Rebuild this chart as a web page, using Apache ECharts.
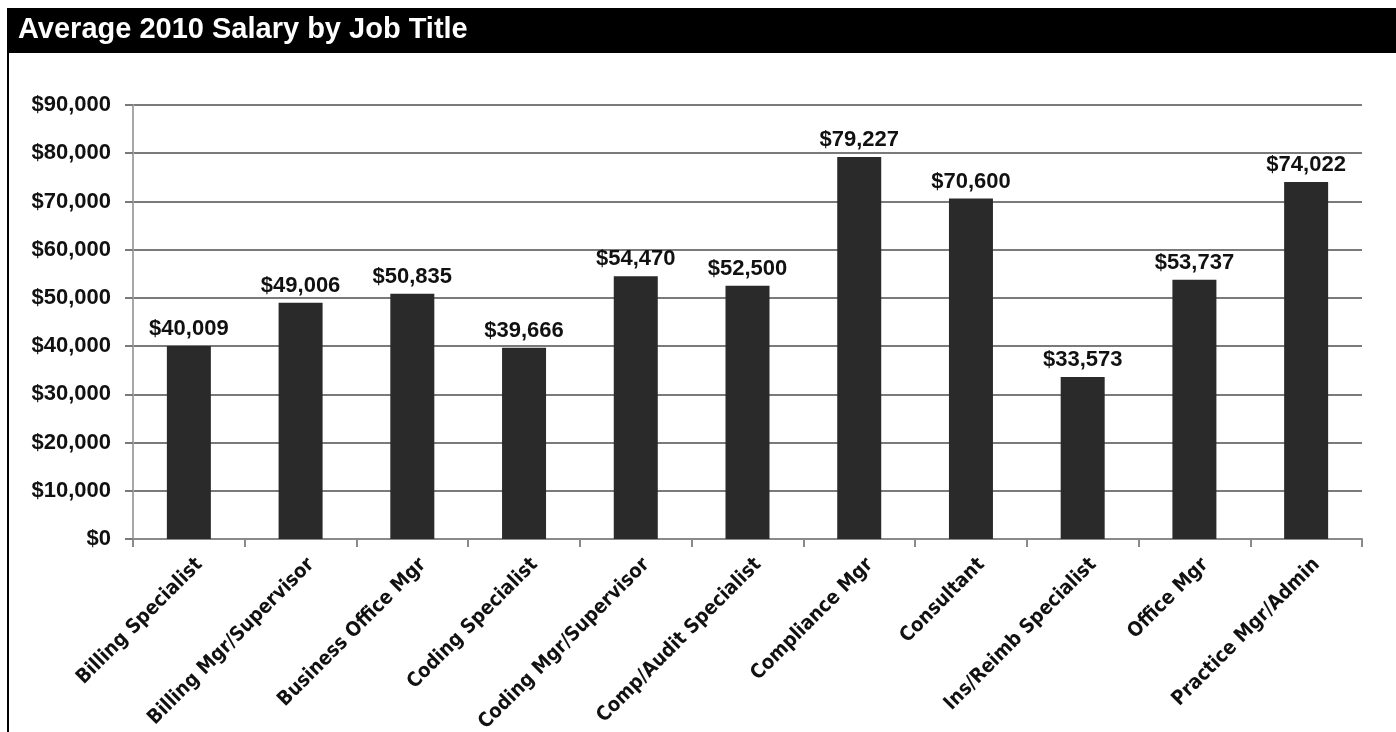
<!DOCTYPE html>
<html>
<head>
<meta charset="utf-8">
<script src="https://cdn.jsdelivr.net/npm/echarts@6/dist/echarts.min.js"></script>
<style>
html,body{margin:0;padding:0;background:#fff;}
#chart{width:1396px;height:732px;}
</style>
</head>
<body>
<div id="chart"></div>
<script>
const titleText = 'Average 2010 Salary by Job Title';
const categories = ['Billing Specialist','Billing Mgr/Supervisor','Business Office Mgr','Coding Specialist','Coding Mgr/Supervisor','Comp/Audit Specialist','Compliance Mgr','Consultant','Ins/Reimb Specialist','Office Mgr','Practice Mgr/Admin'];
const salaries = [40009, 49006, 50835, 39666, 54470, 52500, 79227, 70600, 33573, 53737, 74022];
const yMin = 0, yMax = 90000, yStep = 10000;

const fmt = v => '$' + Math.round(v).toLocaleString('en-US');
const FONT = '"Liberation Sans", Arial, Helvetica, sans-serif';

// pick a condensed font for the category labels if one is installed
function hasFont(name) {
  const c = document.createElement('canvas').getContext('2d');
  const s = 'Billing Specialist Mgr/Admin';
  c.font = 'bold 40px monospace';
  const w0 = c.measureText(s).width;
  c.font = 'bold 40px "' + name + '", monospace';
  return Math.abs(c.measureText(s).width - w0) > 0.5;
}
let catFont = FONT, catSize = 20;
if (hasFont('Liberation Sans Narrow')) { catFont = '"Liberation Sans Narrow", sans-serif'; catSize = 24; }
else if (hasFont('DejaVu Sans Condensed')) { catFont = '"DejaVu Sans Condensed", sans-serif'; catSize = 20; }

const chart = echarts.init(document.getElementById('chart'), null, {renderer:'canvas'});
chart.setOption({
  animation: false,
  backgroundColor: '#fff',
  graphic: [
    {type:'rect', shape:{x:7,y:8,width:1389,height:45}, style:{fill:'#000'}, z:10},
    {type:'line', shape:{x1:8,y1:53,x2:8,y2:732}, style:{stroke:'#000', lineWidth:2}, z:10},
    {type:'text', left:18, top:15, style:{text:titleText, fill:'#fff', font:'bold 29px ' + FONT}, z:11}
  ],
  grid: {left:133, right:34, top:105, bottom:193, containLabel:false, outerBoundsMode:'none'},
  xAxis: {
    type:'category',
    data: categories,
    axisLine:{show:true, lineStyle:{color:'#8a8a8a', width:2}},
    axisTick:{show:true, alignWithLabel:false, length:8, lineStyle:{color:'#8a8a8a', width:2}},
    axisLabel:{rotate:45, interval:0, margin:12, align:'right', verticalAlign:'top', padding:[5,0,0,0],
      color:'#111', fontFamily:catFont, fontWeight:'bold', fontSize:catSize}
  },
  yAxis: {
    type:'value', min:yMin, max:yMax, interval:yStep,
    axisLine:{show:true, lineStyle:{color:'#a8a8a8', width:2}},
    axisTick:{show:true, length:8, lineStyle:{color:'#7a7a7a', width:2}},
    splitLine:{show:true, lineStyle:{color:'#7a7a7a', width:2}},
    axisLabel:{margin:22, color:'#111', fontFamily:FONT, fontWeight:'bold', fontSize:22, formatter: v => fmt(v)}
  },
  series: [{
    type:'bar',
    data: salaries,
    barWidth: 44,
    itemStyle:{color:'#2a2a2a'},
    label:{show:true, position:'top', distance:6, color:'#111', fontFamily:FONT, fontWeight:'bold', fontSize:22, formatter: p => fmt(p.value)}
  }]
});
</script>
</body>
</html>
